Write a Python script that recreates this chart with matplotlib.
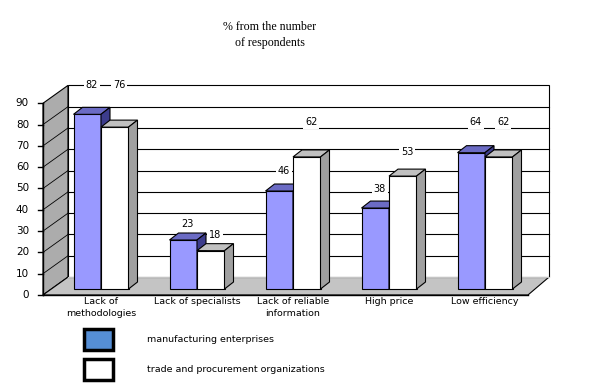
import numpy as np
import matplotlib.pyplot as plt
from matplotlib.patches import Polygon, Rectangle

categories = ['Lack of\nmethodologies', 'Lack of specialists', 'Lack of reliable\ninformation',
              'High price', 'Low efficiency']
manufacturing = [82, 23, 46, 38, 64]
trade = [76, 18, 62, 53, 62]
series_names = ['manufacturing enterprises', 'trade and procurement organizations']
yticks = list(range(0, 100, 10))

# where excel put the value labels (in value units)
label_y_manuf = [95.8, 30.5, 55.5, 46.8, 78.5]
label_y_trade = [95.8, 25.4, 78.5, 64.5, 78.5]

W, H = 596, 387
X0, XS = 101.0, 96.0      # px of first category, px per category
Y0, YS = 289.0, 2.13      # px of value 0, px per unit

def px_x(p):
    return (p - X0) / XS

fig = plt.figure(figsize=(W / 100, H / 100), dpi=100)
ax = fig.add_axes([0, 0, 1, 1])
ax.set_xlim(px_x(0), px_x(W))
ax.set_ylim((Y0 - H) / YS, Y0 / YS)
ax.axis('off')

# walls
front_off, back_off = -2.8, 5.6
fl, bl, fr, br = px_x(43), px_x(68), px_x(528), px_x(549)
top = max(yticks)
ax.add_patch(Polygon([(fl, front_off), (fl, top + front_off), (bl, top + back_off), (bl, back_off)],
                     closed=True, fc='#acacac', ec='black', lw=0.8, zorder=1))
ax.add_patch(Polygon([(fl, front_off), (fr, front_off), (br, back_off), (bl, back_off)],
                     closed=True, fc='#c4c4c4', ec='black', lw=0.8, zorder=1))
ax.add_patch(Rectangle((bl, back_off), br - bl, top, fc='white', ec='black', lw=0.8, zorder=1))
for v in yticks[1:-1]:
    ax.plot([bl, br], [v + back_off, v + back_off], color='black', lw=0.8, zorder=2)
    ax.plot([fl, bl], [v + front_off, v + back_off], color='black', lw=0.6, zorder=2)
ax.plot([bl, br], [back_off, back_off], color='#c4c4c4', lw=0.8, zorder=2)

# y axis with ticks
ax.plot([fl, fl], [front_off, top + front_off], color='black', lw=1, zorder=3)
for v in yticks:
    ax.plot([px_x(38), fl], [v + front_off, v + front_off], color='black', lw=1, zorder=3)
    ax.text(px_x(29), v + front_off, str(v), ha='right', va='center', fontsize=7.5,
            family='DejaVu Sans', zorder=3)
ax.plot([fl, fr], [front_off, front_off], color='black', lw=1, zorder=3)

# 3d-ish bars
bw = 27.5 / XS
ddx, ddy = 9 / XS, 7 / YS
x = np.arange(len(categories))
styles = [('#9999ff', '#6b6bc4', '#3c3c8c'), ('white', '#c0c0c0', '#a0a0a0')]
for i in x:
    for j, (vals, lab_y) in enumerate([(manufacturing, label_y_manuf), (trade, label_y_trade)]):
        v = vals[i]
        x0 = i - bw + j * bw
        x1 = x0 + bw
        front, topc, side = styles[j]
        ax.bar(x0, v, width=bw, align='edge', color=front, edgecolor='black', lw=0.8, zorder=4 + j)
        ax.add_patch(Polygon([(x0, v), (x0 + ddx, v + ddy), (x1 + ddx, v + ddy), (x1, v)],
                             closed=True, fc=topc, ec='black', lw=0.8, zorder=4 + j))
        ax.add_patch(Polygon([(x1, 0), (x1 + ddx, ddy), (x1 + ddx, v + ddy), (x1, v)],
                             closed=True, fc=side, ec='black', lw=0.8, zorder=4 + j))
        ax.text(x0 + bw / 2 + ddx / 2, lab_y[i], str(v), ha='center', va='center', fontsize=7,
                family='DejaVu Sans', zorder=3,
                bbox=dict(fc='white', ec='none', pad=1.5))
    ax.text(i, (Y0 - 297) / YS, categories[i], ha='center', va='top', fontsize=6.8,
            family='DejaVu Sans', linespacing=1.5, zorder=3)

# title
fig.text(270 / W, 1 - 35 / H, '% from the number\nof respondents', ha='center', va='center',
         fontsize=8.6, family='Liberation Serif', linespacing=1.35)

# legend
for k, (name, fc) in enumerate(zip(series_names, ['#558ed5', 'white'])):
    yc = 339.5 + k * 30
    fig.patches.append(Rectangle((84 / W, 1 - (yc + 10.5) / H), 29 / W, 21 / H, fc=fc, ec='black',
                                 lw=2.5, transform=fig.transFigure, figure=fig))
    fig.text(147 / W, 1 - yc / H, name, ha='left', va='center', fontsize=6.8, family='DejaVu Sans')

fig.savefig('out.png', dpi=100)
